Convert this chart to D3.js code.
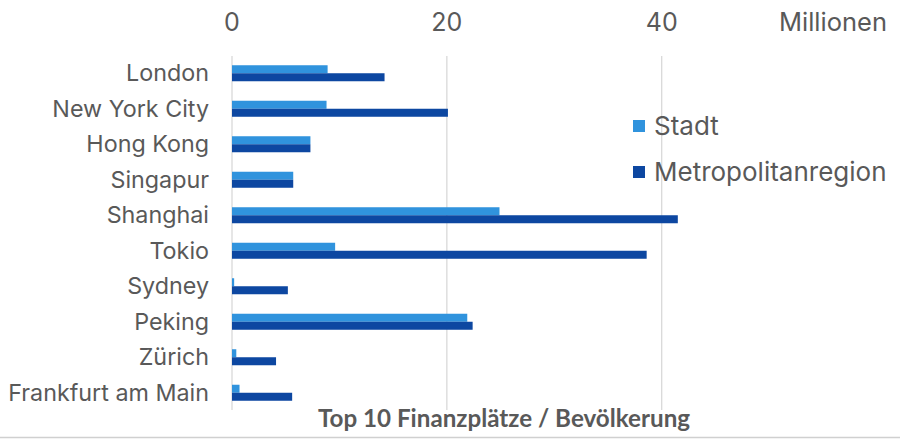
<!DOCTYPE html>
<html><head><meta charset="utf-8">
<script src="https://cdn.jsdelivr.net/npm/d3@7"></script>
<style>
body{margin:0;background:#fff;}
svg{display:block;}
</style></head>
<body><svg id="c" width="900" height="440"></svg>
<script>
const categories = ["London","New York City","Hong Kong","Singapur","Shanghai","Tokio","Sydney","Peking","Zürich","Frankfurt am Main"];
const stadt = [8.9, 8.8, 7.3, 5.7, 24.9, 9.6, 0.2, 21.9, 0.4, 0.7];
const metro = [14.2, 20.1, 7.3, 5.7, 41.5, 38.6, 5.2, 22.4, 4.1, 5.6];
const seriesNames = ["Stadt","Metropolitanregion"];
const tickValues = [0, 20, 40];
const unitLabel = "Millionen";
const title = "Top 10 Finanzplätze / Bevölkerung";
const colors = ["#3093DD", "#0D47A1"];

const svg = d3.select("#c");
const textColor = "#595959";
const font = "Inter, 'Noto Sans', sans-serif";

const x = d3.scaleLinear().domain([0, 40]).range([232, 661.7]);
const y = d3.scaleBand().domain(categories).range([55.5, 410.5]).paddingInner(0.549).paddingOuter(0.2745);
const ys = d3.scaleBand().domain(seriesNames).range([0, y.bandwidth()]);

// gridlines
svg.append("g").selectAll("line").data(tickValues).join("line")
  .attr("x1", d => x(d)).attr("x2", d => x(d))
  .attr("y1", 56).attr("y2", 410)
  .attr("stroke", "#d9d9d9").attr("stroke-width", 1.3);

// tick labels
svg.append("g").selectAll("text").data(tickValues).join("text")
  .attr("x", d => x(d)).attr("y", 31)
  .attr("text-anchor", "middle")
  .attr("font-family", font).attr("font-size", 25).attr("fill", textColor)
  .text(d => d);
svg.append("text").attr("x", 887).attr("y", 31).attr("text-anchor", "end")
  .attr("font-family", font).attr("font-size", 25.5).attr("fill", textColor).text(unitLabel);

// bars
const data = categories.map((c, i) => ({c, vals: [stadt[i], metro[i]]}));
const g = svg.append("g").selectAll("g").data(data).join("g")
  .attr("transform", d => `translate(0,${y(d.c)})`);
g.selectAll("rect").data(d => d.vals.map((v, j) => ({v, s: seriesNames[j], j}))).join("rect")
  .attr("x", x(0)).attr("y", d => ys(d.s))
  .attr("width", d => x(d.v) - x(0)).attr("height", ys.bandwidth())
  .attr("fill", d => colors[d.j]);

// category labels
svg.append("g").selectAll("text").data(categories).join("text")
  .attr("x", 209).attr("y", d => y(d) + y.bandwidth() / 2)
  .attr("dy", "0.35em").attr("text-anchor", "end")
  .attr("font-family", font).attr("font-size", 23.3).attr("fill", textColor)
  .text(d => d);

// legend
const leg = svg.append("g").selectAll("g").data(seriesNames).join("g")
  .attr("transform", (d, i) => `translate(633,${126 + i * 46})`);
leg.append("rect").attr("x", 0).attr("y", -6).attr("width", 12).attr("height", 12)
  .attr("fill", (d, i) => colors[i]);
leg.append("text").attr("x", 21).attr("y", 0).attr("dy", "0.35em")
  .attr("font-family", font).attr("font-size", 26).attr("fill", textColor).text(d => d);

// title
svg.append("text").attr("x", 504).attr("y", 427).attr("text-anchor", "middle")
  .attr("font-family", "Lato, 'Open Sans', sans-serif").attr("font-weight", "bold")
  .attr("font-size", 24.2).attr("fill", textColor).text(title);

// bottom border
svg.append("line").attr("x1", 0).attr("x2", 900).attr("y1", 437.5).attr("y2", 437.5)
  .attr("stroke", "#d0d0d0").attr("stroke-width", 1.5);
</script></body></html>
